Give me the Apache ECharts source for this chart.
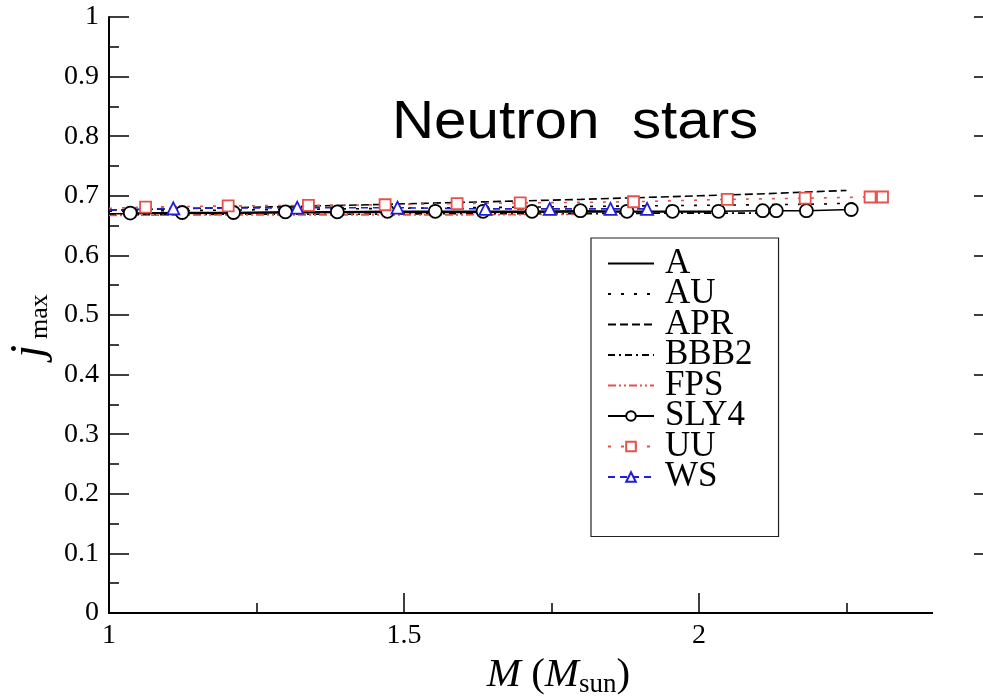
<!DOCTYPE html>
<html>
<head>
<meta charset="utf-8">
<script src="https://cdn.jsdelivr.net/npm/echarts@6/dist/echarts.min.js"></script>
<style>html,body{margin:0;padding:0;background:#fff}#c{width:983px;height:698px}</style>
</head>
<body>
<div id="c"></div>
<script>
// ---- data (M in solar masses, j_max) ----
const seriesNames = ['A','AU','APR','BBB2','FPS','SLY4','UU','WS'];
const xTicks = [1, 1.5, 2, 2.5];
const yTicks = [0,0.1,0.2,0.3,0.4,0.5,0.6,0.7,0.8,0.9,1];

const aM = [1.0, 1.2, 1.4, 1.6, 1.8, 2.0, 2.02];
const aJ = [0.670, 0.671, 0.672, 0.672, 0.673, 0.673, 0.673];

const auM = [1.0, 1.2, 1.4, 1.6, 1.8, 2.0, 2.2, 2.268];
const auJ = [0.674, 0.676, 0.678, 0.680, 0.682, 0.684, 0.686, 0.688];

const aprM = [1.0, 1.2, 1.4, 1.6, 1.8, 2.0, 2.1, 2.2, 2.25];
const aprJ = [0.676, 0.680, 0.684, 0.689, 0.694, 0.700, 0.703, 0.707, 0.709];

const bbb2M = [1.0, 1.2, 1.4, 1.6, 1.8, 2.0, 2.13];
const bbb2J = [0.668, 0.669, 0.669, 0.670, 0.670, 0.671, 0.671];

const fpsM = [1.0, 1.2, 1.4, 1.6, 1.8];
const fpsJ = [0.667, 0.668, 0.668, 0.668, 0.669];

const sly4M = [1.036,1.124,1.211,1.299,1.387,1.472,1.553,1.634,1.717,1.799,1.878,1.955,2.033,2.108,2.131,2.182,2.258];
const sly4J = [0.671,0.672,0.672,0.673,0.673,0.674,0.674,0.674,0.674,0.675,0.674,0.674,0.674,0.675,0.675,0.675,0.677];

const uuM = [1.0, 1.062, 1.202, 1.338, 1.468, 1.590, 1.697, 1.889, 2.048, 2.180, 2.290, 2.311];
const uuJ = [0.679, 0.681, 0.683, 0.684, 0.685, 0.687, 0.688, 0.690, 0.694, 0.696, 0.698, 0.698];
const uuMarked = [false, true, true, true, true, true, true, true, true, true, true, true];

const wsM = [1.0, 1.109, 1.319, 1.489, 1.638, 1.747, 1.850, 1.912];
const wsJ = [0.676, 0.679, 0.680, 0.680, 0.678, 0.678, 0.678, 0.678];
const wsMarked = [false, true, true, true, true, true, true, true];

const plainLineSeries = ['A','AU','APR','BBB2','FPS'];

function pts(ms, js, marked) {
  return ms.map((m, i) => {
    const p = { value: [m, js[i]] };
    if (marked && !marked[i]) p.symbol = 'none';
    return p;
  });
}

const SERIF = '"Liberation Serif","Times New Roman",serif';
const RED = '#e8504a';
const BLUE = '#1f1fd8';

function lineSeries(name, data, color, type, extra) {
  return Object.assign({
    name: name, type: 'line', data: data, symbol: 'none',
    lineStyle: { color: color, width: 1.6, type: type },
    itemStyle: { color: color },
    animation: false, z: 3
  }, extra || {});
}

const chart = echarts.init(document.getElementById('c'), null, { renderer: 'canvas' });
chart.setOption({
  backgroundColor: '#fff',
  animation: false,
  grid: { left: 109, top: 17, width: 885, height: 596, show: false, containLabel: false, outerBoundsMode: 'none' },
  legend: {
    orient: 'vertical', left: 591, top: 238,
    data: seriesNames.map(n => plainLineSeries.indexOf(n) >= 0 ? { name: n, itemStyle: { opacity: 0 } } : { name: n }),
    itemWidth: 46, itemHeight: 12, itemGap: -4.5,
    padding: [8, 26, 42, 16],
    borderColor: '#222', borderWidth: 1.2, backgroundColor: '#fff',
    textStyle: { fontFamily: SERIF, fontSize: 35, color: '#000', lineHeight: 30, padding: [0, 0, 0, 6] }
  },
  xAxis: [{
    type: 'value', min: 1, max: 2.5, interval: 0.5,
    name: '{i|M}{n| (}{i|M}{s|sun}{n|)}', nameLocation: 'middle', nameGap: 32,
    nameTextStyle: { padding: [0, 0, 0, 14], rich: {
      i: { fontFamily: SERIF, fontStyle: 'italic', fontSize: 41, color: '#000' },
      n: { fontFamily: SERIF, fontSize: 41, color: '#000' },
      s: { fontFamily: SERIF, fontSize: 27, color: '#000', verticalAlign: 'bottom', padding: [20, 0, 0, 0] }
    } },
    axisLine: { lineStyle: { color: '#000', width: 2 } },
    axisTick: { inside: true, length: 20, lineStyle: { color: '#000', width: 1.5 } },
    minorTick: { show: true, splitNumber: 2, length: 10, lineStyle: { color: '#000', width: 1.5 } },
    axisLabel: { fontFamily: SERIF, fontSize: 28, color: '#000', margin: 9, formatter: v => (v > 2.4 ? '' : String(v)) },
    splitLine: { show: false }
  }, {
    type: 'value', position: 'top', min: 1, max: 2.5, interval: 0.5,
    axisLine: { lineStyle: { color: '#000', width: 2 } },
    axisTick: { show: false }, axisLabel: { show: false }, splitLine: { show: false }
  }],
  yAxis: [{
    type: 'value', min: 0, max: 1, interval: 0.1,
    name: '{j|j}{s|max}', nameLocation: 'middle', nameGap: 54,
    nameTextStyle: { padding: [0, 22, 0, 0], rich: {
      j: { fontFamily: SERIF, fontStyle: 'italic', fontSize: 46, color: '#000', padding: [0, 6, 0, 0] },
      s: { fontFamily: SERIF, fontSize: 26, color: '#000', verticalAlign: 'bottom', padding: [18, 0, 0, 0] }
    } },
    axisLine: { lineStyle: { color: '#000', width: 2 } },
    axisTick: { inside: true, length: 20, lineStyle: { color: '#000', width: 1.5 } },
    minorTick: { show: true, splitNumber: 2, length: 10, lineStyle: { color: '#000', width: 1.5 } },
    axisLabel: { fontFamily: SERIF, fontSize: 28, color: '#000', margin: 10,
      formatter: v => (v === 0 ? '0' : (v === 1 ? '1' : v.toFixed(1))) },
    splitLine: { show: false }
  }, {
    type: 'value', position: 'right', min: 0, max: 1, interval: 0.1,
    axisLine: { lineStyle: { color: '#000', width: 2 } },
    axisTick: { inside: true, length: 20, lineStyle: { color: '#000', width: 1.5 } },
    minorTick: { show: true, splitNumber: 2, length: 10, lineStyle: { color: '#000', width: 1.5 } },
    axisLabel: { show: false }, splitLine: { show: false }
  }],
  graphic: [{
    type: 'rect', shape: { x: 933, y: 600, width: 60, height: 30 },
    style: { fill: '#fff' }, z: 100
  }, {
    type: 'text', left: 392, top: 96, scaleX: 1.08, z: 50,
    style: { text: 'Neutron  stars', fill: '#000',
      font: 'normal 54px "Liberation Sans", Arial, sans-serif' }
  }],
  series: [
    lineSeries('A', pts(aM, aJ), '#000', 'solid'),
    lineSeries('AU', pts(auM, auJ), '#000', [3, 10]),
    lineSeries('APR', pts(aprM, aprJ), '#000', [8, 4]),
    lineSeries('BBB2', pts(bbb2M, bbb2J), '#000', [7, 4, 2, 4]),
    lineSeries('FPS', pts(fpsM, fpsJ), RED, [8, 3, 2, 3, 2, 3]),
    lineSeries('SLY4', pts(sly4M, sly4J), '#000', 'solid', {
      symbol: 'circle', symbolSize: 13, showAllSymbol: true,
      itemStyle: { color: '#fff', borderColor: '#000', borderWidth: 1.8 }
    }),
    lineSeries('UU', pts(uuM, uuJ, uuMarked), RED, [3, 10], {
      symbol: 'rect', symbolSize: 11, showAllSymbol: true,
      itemStyle: { color: '#fff', borderColor: RED, borderWidth: 1.8 }
    }),
    lineSeries('WS', pts(wsM, wsJ, wsMarked), BLUE, [7, 5], {
      symbol: 'triangle', symbolSize: 12, showAllSymbol: true,
      itemStyle: { color: '#fff', borderColor: BLUE, borderWidth: 1.8 }
    })
  ]
});
</script>
</body>
</html>
